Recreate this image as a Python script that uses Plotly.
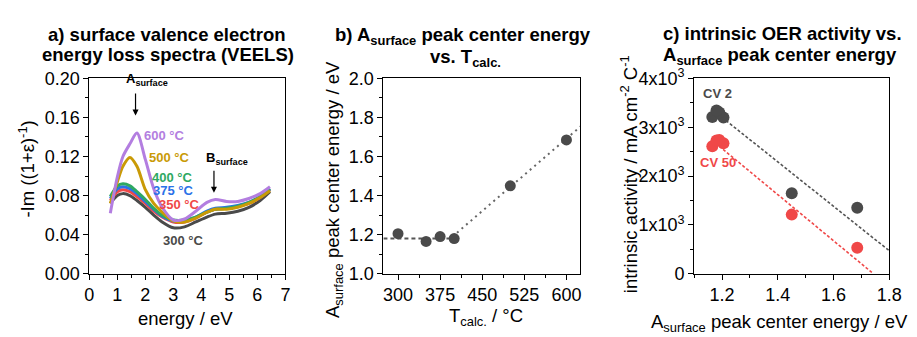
import plotly.graph_objects as go

# ---------------- data ----------------
# panel a: VEELS spectra
energy = [0.75, 1.0, 1.2, 1.45, 1.7, 2.0, 2.3, 2.6, 3.0, 3.4, 3.8, 4.2, 4.5, 4.9, 5.3, 5.7, 6.1, 6.45]
veels_300 = [0.072, 0.080, 0.082, 0.080, 0.075, 0.068, 0.060, 0.053, 0.047, 0.048, 0.053, 0.058, 0.061, 0.062, 0.064, 0.068, 0.075, 0.084]
veels_350 = [0.075, 0.084, 0.086, 0.084, 0.079, 0.072, 0.064, 0.058, 0.053, 0.053, 0.057, 0.063, 0.066, 0.067, 0.069, 0.072, 0.078, 0.086]
veels_375 = [0.077, 0.087, 0.089, 0.087, 0.082, 0.074, 0.066, 0.059, 0.054, 0.054, 0.058, 0.064, 0.067, 0.068, 0.070, 0.073, 0.079, 0.087]
veels_400 = [0.079, 0.090, 0.092, 0.090, 0.084, 0.076, 0.067, 0.060, 0.055, 0.055, 0.058, 0.063, 0.066, 0.067, 0.069, 0.073, 0.079, 0.087]
veels_500 = [0.072, 0.094, 0.110, 0.119, 0.110, 0.086, 0.072, 0.063, 0.054, 0.053, 0.057, 0.063, 0.066, 0.066, 0.068, 0.072, 0.078, 0.085]
veels_600 = [0.062, 0.099, 0.120, 0.133, 0.144, 0.117, 0.087, 0.068, 0.055, 0.056, 0.064, 0.073, 0.076, 0.074, 0.074, 0.077, 0.082, 0.089]
series_labels = ["300 °C", "350 °C", "375 °C", "400 °C", "500 °C", "600 °C"]
# label anchor positions (energy, value)
label_pos = [(3.38, 0.034), (3.23, 0.071), (3.0, 0.085), (2.96, 0.0985), (2.88, 0.119), (2.7, 0.142)]

# panel b: peak center vs calcination temperature
t_calc = [300, 350, 375, 400, 500, 600]
peak_center = [1.205, 1.165, 1.19, 1.18, 1.45, 1.685]
flat_level = 1.18
flat_range = [274, 400]
lin_range = [397, 625]
lin_slope = 0.00247
lin_ref = (397, 1.19)

# panel c: intrinsic activity vs peak center (same sample order as t_calc)
act_cv2 = [3200, 3210, 3300, 3340, 1650, 1350]
act_cv50 = [2670, 2610, 2740, 2730, 1210, 530]
fit_cv2_x = [1.2, 1.8]
fit_cv2_slope, fit_cv2_ref = -4550, (1.2, 3200)
fit_cv50_x = [1.19, 1.743]
fit_cv50_slope, fit_cv50_ref = -4720, (1.19, 2610)
c_yticks = [0, 1000, 2000, 3000, 4000]
c_yticktext = ["0", "1x10<sup>3</sup>", "2x10<sup>3</sup>", "3x10<sup>3</sup>", "4x10<sup>3</sup>"]

# ---------------- style ----------------
FONT = "Arial, Liberation Sans, sans-serif"
colors = ["#4a4a4a", "#f04848", "#2a72e8", "#2ea862", "#c99a06", "#b37ee0"]
W, H = 917, 337
TOP, BOT = 71, 280
TICK_FS = 18
TITLE_FS = 18.5
AX_FS = 18.5

def px(xp):
    return xp / W

def py(yp):
    return 1 - yp / H

fig = go.Figure()

for vals, c in zip([veels_300, veels_350, veels_375, veels_400, veels_500, veels_600], colors):
    fig.add_trace(go.Scatter(x=energy, y=vals, mode="lines", line=dict(color=c, width=3, shape="spline", smoothing=0.8),
                             xaxis="x", yaxis="y", showlegend=False))

# panel b
fig.add_trace(go.Scatter(x=flat_range, y=[flat_level, flat_level], mode="lines",
                         line=dict(color="#555555", width=2, dash="4px,3px"), xaxis="x2", yaxis="y2", showlegend=False))
lin_y = [lin_ref[1] + lin_slope * (x - lin_ref[0]) for x in lin_range]
fig.add_trace(go.Scatter(x=lin_range, y=lin_y, mode="lines",
                         line=dict(color="#666666", width=2, dash="2px,4px"), xaxis="x2", yaxis="y2", showlegend=False))
fig.add_trace(go.Scatter(x=t_calc, y=peak_center, mode="markers",
                         marker=dict(color="#4a4a4a", size=11), xaxis="x2", yaxis="y2", showlegend=False))

# panel c
y2fit = [fit_cv2_ref[1] + fit_cv2_slope * (x - fit_cv2_ref[0]) for x in fit_cv2_x]
fig.add_trace(go.Scatter(x=fit_cv2_x, y=y2fit, mode="lines",
                         line=dict(color="#555555", width=1.6, dash="3px,2px"), xaxis="x3", yaxis="y3", showlegend=False))
y50fit = [fit_cv50_ref[1] + fit_cv50_slope * (x - fit_cv50_ref[0]) for x in fit_cv50_x]
fig.add_trace(go.Scatter(x=fit_cv50_x, y=y50fit, mode="lines",
                         line=dict(color="#f04848", width=1.6, dash="3px,2px"), xaxis="x3", yaxis="y3", showlegend=False))
fig.add_trace(go.Scatter(x=peak_center, y=act_cv2, mode="markers",
                         marker=dict(color="#4a4a4a", size=12), xaxis="x3", yaxis="y3", showlegend=False))
fig.add_trace(go.Scatter(x=peak_center, y=act_cv50, mode="markers",
                         marker=dict(color="#f04848", size=12), xaxis="x3", yaxis="y3", showlegend=False))

axis_common = dict(showline=True, linecolor="black", linewidth=1, mirror=True, ticks="outside",
                   ticklen=5, tickwidth=1, tickcolor="black", showgrid=False, zeroline=False,
                   tickfont=dict(family=FONT, size=TICK_FS, color="black"),
                   minor=dict(ticks="outside", ticklen=3, tickwidth=1, tickcolor="black", showgrid=False))

yd = [py(BOT), py(TOP)]
fig.update_layout(
    width=W, height=H, margin=dict(l=0, r=0, t=0, b=0),
    plot_bgcolor="white", paper_bgcolor="white",
    font=dict(family=FONT, color="black"),
    xaxis=dict(domain=[px(86), px(286)], range=[0, 7], dtick=1, tick0=0, anchor="y", **axis_common),
    yaxis=dict(domain=yd, range=[0, 0.2], dtick=0.04, tick0=0, tickformat=".2f", anchor="x", **axis_common),
    xaxis2=dict(domain=[px(386), px(587)], range=[274, 625], tickvals=[300, 375, 450, 525, 600], anchor="y2", **axis_common),
    yaxis2=dict(domain=yd, range=[1.0, 2.0], dtick=0.2, tick0=1.0, tickformat=".1f", anchor="x2", **axis_common),
    xaxis3=dict(domain=[px(703), px(902)], range=[1.1, 1.8], dtick=0.2, tick0=1.2, tickformat=".1f", anchor="y3", **axis_common),
    yaxis3=dict(domain=yd, range=[0, 4000], tickvals=c_yticks, ticktext=c_yticktext, anchor="x3", **axis_common),
)
fig.layout.xaxis.minor.dtick = 0.5
fig.layout.yaxis.minor.dtick = 0.02
fig.layout.xaxis2.minor.tickvals = [337.5, 412.5, 487.5, 562.5]
fig.layout.yaxis2.minor.dtick = 0.1
fig.layout.xaxis3.minor.dtick = 0.1
fig.layout.xaxis3.minor.tick0 = 1.1
fig.layout.yaxis3.minor.dtick = 500

ann = []
def pa(text, x, y, size=17, bold=False, color="black", angle=0):
    ann.append(dict(text=("<b>%s</b>" % text) if bold else text, x=px(x), y=py(y), xref="paper", yref="paper",
                    showarrow=False, xanchor="center", yanchor="middle", textangle=angle,
                    font=dict(family=FONT, size=size, color=color)))

# titles (one annotation per line)
pa("a) surface valence electron", 165, 24, size=TITLE_FS, bold=True)
pa("energy loss spectra (VEELS)", 166, 46, size=TITLE_FS, bold=True)
pa("b) A<sub>surface</sub> peak center energy", 467, 26, size=TITLE_FS, bold=True)
pa("vs. T<sub>calc.</sub>", 470, 49, size=TITLE_FS, bold=True)
pa("c) intrinsic OER activity vs.", 793, 23, size=TITLE_FS, bold=True)
pa("A<sub>surface</sub> peak center energy", 791, 47, size=TITLE_FS, bold=True)

# axis titles
pa("energy / eV", 184, 328, size=AX_FS)
pa("-Im ((1+ε)<sup>-1</sup>)", 22, 168, size=AX_FS, angle=-90)
pa("T<sub>calc.</sub> / °C", 491, 326, size=AX_FS)
pa("A<sub>surface</sub> peak center energy / eV", 335, 190, size=AX_FS, angle=-90)
pa("A<sub>surface</sub> peak center energy / eV", 790, 333, size=AX_FS)
pa("intrinsic activity / mA cm<sup>-2</sup> C<sup>-1</sup>", 636, 174, size=AX_FS, angle=-90)

# A_surface label (above the plot area)
pa("A<sub>surface</sub>", 145, 72, size=13, bold=True)

fig.update_layout(annotations=ann)

# series labels in panel a (data coords)
for (ex, vy), lab, c in zip(label_pos, series_labels, colors):
    fig.add_annotation(x=ex, y=vy, xref="x", yref="y", text="<b>%s</b>" % lab, showarrow=False,
                       xanchor="center", yanchor="middle", font=dict(family=FONT, size=13, color=c))

# arrows
fig.add_annotation(x=1.65, y=0.162, ax=1.65, ay=0.186, xref="x", yref="y", axref="x", ayref="y", text="",
                   showarrow=True, arrowhead=2, arrowsize=1, arrowwidth=1.2, arrowcolor="black")
fig.add_annotation(x=4.9, y=0.118, xref="x", yref="y", text="<b>B<sub>surface</sub></b>", showarrow=False,
                   font=dict(family=FONT, size=13, color="black"))
fig.add_annotation(x=4.45, y=0.083, ax=4.45, ay=0.107, xref="x", yref="y", axref="x", ayref="y", text="",
                   showarrow=True, arrowhead=2, arrowsize=1, arrowwidth=1.2, arrowcolor="black")

# CV labels panel c
fig.add_annotation(x=1.185, y=3680, xref="x3", yref="y3", text="<b>CV 2</b>", showarrow=False,
                   font=dict(family=FONT, size=13, color="#4a4a4a"))
fig.add_annotation(x=1.185, y=2270, xref="x3", yref="y3", text="<b>CV 50</b>", showarrow=False,
                   font=dict(family=FONT, size=13, color="#f04848"))

fig.write_html("out.html")
